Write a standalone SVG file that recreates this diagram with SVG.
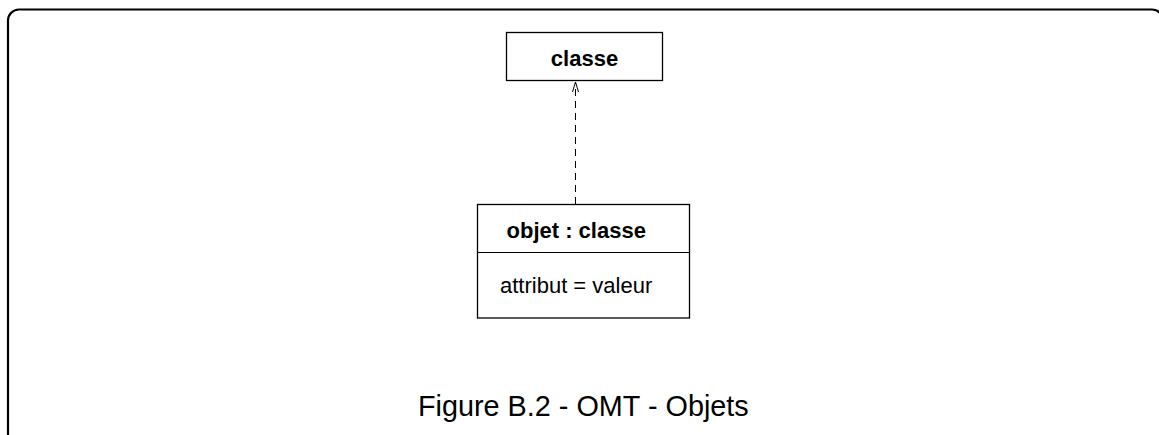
<svg xmlns="http://www.w3.org/2000/svg" width="1159" height="435" viewBox="0 0 1159 435">
<style>
.box{fill:#fff;stroke:#000;stroke-width:1.3}
.t{font-family:"Liberation Sans",Arial,sans-serif;font-size:22px;fill:#000}
.b{font-weight:bold}
.conn{stroke:#000;stroke-width:1;fill:none}
</style>
<rect x="8" y="9.5" width="1155" height="437" rx="11" fill="none" stroke="#000" stroke-width="2.2"/>
<g id="classe">
<rect class="box" x="506.5" y="32.5" width="156" height="48"/>
<text class="t b" x="584.5" y="66" text-anchor="middle">classe</text>
</g>
<g id="objet">
<rect class="box" x="477.5" y="204.5" width="212" height="113.5"/>
<line class="conn" x1="477.5" y1="252.5" x2="689.5" y2="252.5" stroke-width="1.3"/>
<text class="t b" x="506.5" y="238">objet : classe</text>
<text class="t" x="500" y="293">attribut = valeur</text>
</g>
<g id="connectors">
<line class="conn" x1="575.5" y1="204" x2="575.5" y2="83" stroke-dasharray="7,5"/>
<path class="conn" d="M572.5,92 L575.5,82 L578.5,92"/>
</g>
<text class="t" x="418" y="416" style="font-size:28.8px">Figure B.2 - OMT - Objets</text>
</svg>
